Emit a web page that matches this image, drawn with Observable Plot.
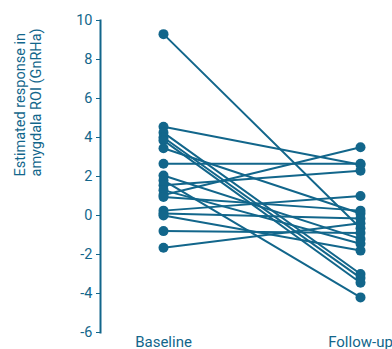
<!DOCTYPE html>
<html>
<head>
<meta charset="utf-8">
<script src="https://cdn.jsdelivr.net/npm/d3@7"></script>
<script src="https://cdn.jsdelivr.net/npm/@observablehq/plot@0.6"></script>
<style>
  html, body { margin: 0; padding: 0; background: #fff; }
  #chart svg { display: block; }
</style>
</head>
<body>
<div id="chart"></div>
<script>
const timepoints = ["Baseline", "Follow-up"];
const baselineValues = [9.3, 4.55, 4.25, 4.0, 3.85, 3.45, 2.65, 2.05, 1.8, 1.55, 1.3, 1.05, 0.95, 0.25, 0.1, 0.0, -0.8, -1.65];
const followupValues = [-0.65, 2.6, -3.0, -3.2, -3.45, 0.1, 2.65, -1.2, -4.2, 2.3, -1.45, 3.5, 0.25, 1.0, -0.15, -1.8, -0.9, -0.4];
const yTicks = [-6, -4, -2, 0, 2, 4, 6, 8, 10];
const yLabel = "Estimated response in\namygdala ROI (GnRHa)";

const color = "#12668b";
const rows = [];
baselineValues.forEach((v, i) => {
  rows.push({id: i, time: timepoints[0], value: v});
  rows.push({id: i, time: timepoints[1], value: followupValues[i]});
});

const chart = Plot.plot({
  width: 392,
  height: 349,
  marginTop: 20,
  marginBottom: 17,
  marginLeft: 100,
  marginRight: 0,
  style: {fontFamily: "Roboto, sans-serif", fontSize: "14px", color: color, background: "#fff", overflow: "visible"},
  x: {domain: timepoints, range: [163, 360], type: "point", padding: 0},
  y: {domain: [-6, 10]},
  marks: [
    Plot.frame({anchor: "left", stroke: color, strokeWidth: 2}),
    Plot.axisY({ticks: yTicks, tickSize: 4, tickPadding: 4, label: null, stroke: color, fill: color, fontSize: 14.5, tickFormat: d => String(d)}),
    Plot.axisX({tickSize: 0, tickPadding: 4, label: null, fill: color, fontSize: 15}),
    Plot.text([yLabel], {frameAnchor: "left", dx: -73, rotate: -90, fill: color, fontSize: 14.5, lineHeight: 1.1}),
    Plot.line(rows, {x: "time", y: "value", z: "id", stroke: color, strokeWidth: 2}),
    Plot.dot(rows, {x: "time", y: "value", r: 5, fill: color, stroke: null})
  ]
});
document.getElementById("chart").appendChild(chart);
</script>
</body>
</html>
